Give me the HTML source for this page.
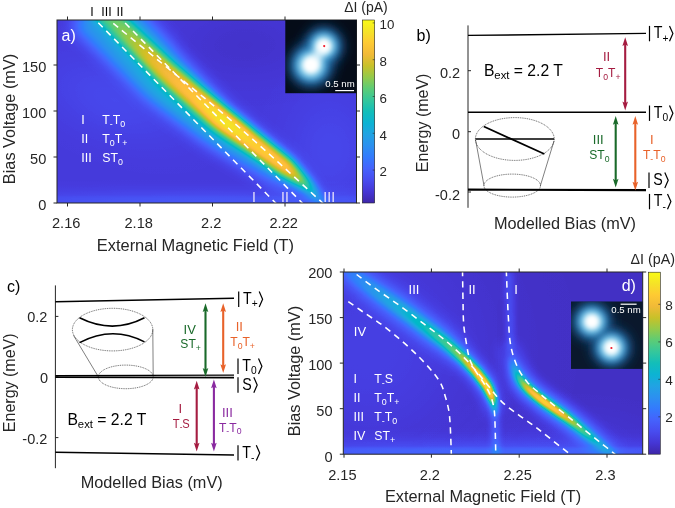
<!DOCTYPE html>
<html><head><meta charset="utf-8"><title>figure</title>
<style>html,body{margin:0;padding:0;background:#fff;overflow:hidden}svg{display:block;opacity:0.9999}text{font-family:"Liberation Sans",sans-serif}</style>
</head><body>
<svg width="675" height="508" viewBox="0 0 675 508">
<defs>
<filter id="cm" filterUnits="userSpaceOnUse" x="0" y="0" width="675" height="508" color-interpolation-filters="sRGB"><feComponentTransfer><feFuncR type="table" tableValues="0.242 0.250 0.258 0.265 0.271 0.275 0.278 0.280 0.281 0.281 0.280 0.276 0.270 0.260 0.244 0.221 0.196 0.183 0.179 0.176 0.169 0.154 0.146 0.138 0.125 0.111 0.095 0.069 0.030 0.004 0.007 0.043 0.096 0.141 0.172 0.194 0.216 0.247 0.291 0.341 0.391 0.446 0.504 0.562 0.617 0.672 0.724 0.774 0.820 0.863 0.903 0.939 0.973 0.996 0.997 0.995 0.989 0.979 0.968 0.961 0.960 0.963 0.969 0.977"/><feFuncG type="table" tableValues="0.150 0.165 0.182 0.198 0.215 0.234 0.256 0.278 0.301 0.323 0.345 0.367 0.389 0.412 0.436 0.460 0.485 0.507 0.529 0.550 0.570 0.590 0.609 0.628 0.646 0.663 0.680 0.695 0.708 0.720 0.731 0.741 0.750 0.758 0.767 0.776 0.784 0.792 0.797 0.801 0.803 0.802 0.799 0.794 0.788 0.779 0.770 0.760 0.750 0.741 0.733 0.729 0.730 0.743 0.766 0.789 0.814 0.839 0.864 0.889 0.913 0.937 0.961 0.984"/><feFuncB type="table" tableValues="0.660 0.708 0.751 0.795 0.836 0.871 0.899 0.922 0.941 0.958 0.972 0.983 0.991 0.995 0.999 0.997 0.989 0.980 0.968 0.952 0.936 0.922 0.908 0.897 0.888 0.876 0.860 0.839 0.816 0.792 0.766 0.739 0.712 0.684 0.655 0.625 0.592 0.557 0.519 0.479 0.435 0.391 0.348 0.304 0.261 0.223 0.191 0.165 0.153 0.160 0.177 0.210 0.239 0.237 0.220 0.203 0.189 0.177 0.164 0.154 0.142 0.127 0.106 0.081"/></feComponentTransfer></filter>
<filter id="b1" filterUnits="userSpaceOnUse" x="0" y="0" width="675" height="508"><feGaussianBlur stdDeviation="1"/></filter>
<filter id="b1_5" filterUnits="userSpaceOnUse" x="0" y="0" width="675" height="508"><feGaussianBlur stdDeviation="1.5"/></filter>
<filter id="b2" filterUnits="userSpaceOnUse" x="0" y="0" width="675" height="508"><feGaussianBlur stdDeviation="2"/></filter>
<filter id="b2_5" filterUnits="userSpaceOnUse" x="0" y="0" width="675" height="508"><feGaussianBlur stdDeviation="2.5"/></filter>
<filter id="b3" filterUnits="userSpaceOnUse" x="0" y="0" width="675" height="508"><feGaussianBlur stdDeviation="3"/></filter>
<filter id="b4" filterUnits="userSpaceOnUse" x="0" y="0" width="675" height="508"><feGaussianBlur stdDeviation="4"/></filter>
<filter id="b5" filterUnits="userSpaceOnUse" x="0" y="0" width="675" height="508"><feGaussianBlur stdDeviation="5"/></filter>
<filter id="b6" filterUnits="userSpaceOnUse" x="0" y="0" width="675" height="508"><feGaussianBlur stdDeviation="6"/></filter>
<filter id="b8" filterUnits="userSpaceOnUse" x="0" y="0" width="675" height="508"><feGaussianBlur stdDeviation="8"/></filter>
<filter id="b10" filterUnits="userSpaceOnUse" x="0" y="0" width="675" height="508"><feGaussianBlur stdDeviation="10"/></filter>
<filter id="b14" filterUnits="userSpaceOnUse" x="0" y="0" width="675" height="508"><feGaussianBlur stdDeviation="14"/></filter>
<filter id="b20" filterUnits="userSpaceOnUse" x="0" y="0" width="675" height="508"><feGaussianBlur stdDeviation="20"/></filter>
<radialGradient id="gs"><stop offset="0.00" stop-color="#fff" stop-opacity="1.000"/><stop offset="0.10" stop-color="#fff" stop-opacity="0.956"/><stop offset="0.20" stop-color="#fff" stop-opacity="0.835"/><stop offset="0.30" stop-color="#fff" stop-opacity="0.667"/><stop offset="0.40" stop-color="#fff" stop-opacity="0.487"/><stop offset="0.50" stop-color="#fff" stop-opacity="0.325"/><stop offset="0.60" stop-color="#fff" stop-opacity="0.198"/><stop offset="0.70" stop-color="#fff" stop-opacity="0.110"/><stop offset="0.80" stop-color="#fff" stop-opacity="0.056"/><stop offset="0.90" stop-color="#fff" stop-opacity="0.026"/><stop offset="1.00" stop-color="#fff" stop-opacity="0.000"/></radialGradient>
<radialGradient id="gsk"><stop offset="0.00" stop-color="#000" stop-opacity="1.000"/><stop offset="0.10" stop-color="#000" stop-opacity="0.956"/><stop offset="0.20" stop-color="#000" stop-opacity="0.835"/><stop offset="0.30" stop-color="#000" stop-opacity="0.667"/><stop offset="0.40" stop-color="#000" stop-opacity="0.487"/><stop offset="0.50" stop-color="#000" stop-opacity="0.325"/><stop offset="0.60" stop-color="#000" stop-opacity="0.198"/><stop offset="0.70" stop-color="#000" stop-opacity="0.110"/><stop offset="0.80" stop-color="#000" stop-opacity="0.056"/><stop offset="0.90" stop-color="#000" stop-opacity="0.026"/><stop offset="1.00" stop-color="#000" stop-opacity="0.000"/></radialGradient>
<linearGradient id="cb" x1="0" y1="1" x2="0" y2="0"><stop offset="0.000" stop-color="#3e26a8"/><stop offset="0.062" stop-color="#4536d5"/><stop offset="0.125" stop-color="#484cef"/><stop offset="0.188" stop-color="#4562fc"/><stop offset="0.250" stop-color="#347afd"/><stop offset="0.312" stop-color="#2c90f0"/><stop offset="0.375" stop-color="#21a3e3"/><stop offset="0.438" stop-color="#0cb3d3"/><stop offset="0.500" stop-color="#12beb9"/><stop offset="0.562" stop-color="#34c79c"/><stop offset="0.625" stop-color="#5ccc76"/><stop offset="0.688" stop-color="#94ca4a"/><stop offset="0.750" stop-color="#c8c129"/><stop offset="0.812" stop-color="#f1ba37"/><stop offset="0.875" stop-color="#feca33"/><stop offset="0.938" stop-color="#f5e327"/><stop offset="1.000" stop-color="#f9fb15"/></linearGradient>
<clipPath id="ca"><rect x="57" y="20" width="299.5" height="183"/></clipPath>
<clipPath id="cd"><rect x="343.3" y="272" width="299.4" height="182.2"/></clipPath>
<radialGradient id="blob"><stop offset="0" stop-color="#ffffff"/><stop offset="0.3" stop-color="#fbfdfd"/><stop offset="0.45" stop-color="#cfe9f2"/><stop offset="0.6" stop-color="#7fbfdf" stop-opacity=".95"/><stop offset="0.75" stop-color="#3f86bd" stop-opacity=".8"/><stop offset="0.9" stop-color="#1d4a7a" stop-opacity=".45"/><stop offset="1" stop-color="#0b2340" stop-opacity="0"/></radialGradient>
</defs>
<rect width="675" height="508" fill="#fff"/>
<g filter="url(#cm)"><g clip-path="url(#ca)">
<rect x="50" y="14" width="314" height="196" fill="rgb(19,19,19)"/>
<circle r="1" fill="url(#gs)" opacity="0.045" transform="translate(115.0 100.0) rotate(20.0) scale(150.0 78.0)"/>
<circle r="1" fill="url(#gs)" opacity="0.065" transform="translate(200.0 201.0) rotate(0.0) scale(480.0 24.0)"/>
<circle r="1" fill="url(#gs)" opacity="0.040" transform="translate(330.0 150.0) rotate(0.0) scale(90.0 120.0)"/>
<rect x="50" y="196" width="314" height="12" fill="#fff" opacity=".025" filter="url(#b1_5)"/>
<circle r="1" fill="url(#gsk)" opacity="0.35" transform="translate(245 45) scale(150 80)"/>
<linearGradient id="ga1" gradientUnits="userSpaceOnUse" x1="110.0" y1="15.0" x2="325.0" y2="205.0"><stop offset="0.000" stop-color="#fff" stop-opacity="0.300"/><stop offset="0.150" stop-color="#fff" stop-opacity="0.330"/><stop offset="0.350" stop-color="#fff" stop-opacity="0.380"/><stop offset="0.600" stop-color="#fff" stop-opacity="0.380"/><stop offset="0.800" stop-color="#fff" stop-opacity="0.280"/><stop offset="0.920" stop-color="#fff" stop-opacity="0.100"/><stop offset="1.000" stop-color="#fff" stop-opacity="0.020"/></linearGradient>
<linearGradient id="ga2" gradientUnits="userSpaceOnUse" x1="110.0" y1="15.0" x2="325.0" y2="205.0"><stop offset="0.000" stop-color="#fff" stop-opacity="0.413"/><stop offset="0.130" stop-color="#fff" stop-opacity="0.551"/><stop offset="0.210" stop-color="#fff" stop-opacity="0.670"/><stop offset="0.300" stop-color="#fff" stop-opacity="0.709"/><stop offset="0.400" stop-color="#fff" stop-opacity="0.756"/><stop offset="0.500" stop-color="#fff" stop-opacity="0.878"/><stop offset="0.560" stop-color="#fff" stop-opacity="0.913"/><stop offset="0.660" stop-color="#fff" stop-opacity="0.834"/><stop offset="0.820" stop-color="#fff" stop-opacity="0.813"/><stop offset="0.885" stop-color="#fff" stop-opacity="0.643"/><stop offset="0.935" stop-color="#fff" stop-opacity="0.433"/><stop offset="0.975" stop-color="#fff" stop-opacity="0.230"/><stop offset="1.000" stop-color="#fff" stop-opacity="0.095"/></linearGradient>
<polygon points="72.0,25.2 90.8,43.0 131.3,81.1 145.5,95.2 204.2,140.2 273.8,182.8 301.0,193.2 320.1,205.8 329.7,211.5 331.7,209.2 324.4,201.6 310.8,183.1 290.9,160.7 228.4,109.6 179.2,57.0 168.4,43.3 130.4,2.0 111.2,-16.1" fill="url(#ga1)" filter="url(#b8)"/>
<polygon points="86.4,10.0 105.4,27.9 145.6,66.5 159.1,79.9 214.2,127.6 280.2,174.5 304.2,189.9 320.7,205.2 329.7,211.5 332.3,208.5 325.3,200.8 311.8,182.1 291.5,159.9 228.1,110.0 172.9,64.1 160.0,51.9 120.3,12.4 101.2,-5.6" fill="url(#ga2)" filter="url(#b4)"/>
</g></g>
<g clip-path="url(#ca)" stroke="#fff" stroke-width="1.55" stroke-dasharray="6.3 5" fill="none">
<line x1="98.3" y1="22.8" x2="276.6" y2="204.0" stroke="#fff" stroke-width="1.55"/>
<path d="M113.3 23.4 C123.9 32.1 158.7 60.6 176.8 75.5 C195.0 90.4 207.2 100.1 222.2 112.8 C237.2 125.5 249.9 136.8 266.7 151.8 C283.4 166.8 313.1 194.3 322.7 203.0 C332.2 211.7 323.8 204.0 324.0 204.2"/>
<line x1="125.1" y1="23.0" x2="303.2" y2="204.0" stroke="#fff" stroke-width="1.55"/>
</g>
<rect x="57.0" y="20.0" width="299.5" height="183.0" fill="none" stroke="#262626" stroke-width="1"/>
<line x1="67.5" y1="203.0" x2="67.5" y2="206.5" stroke="#262626" stroke-width="1"/>
<line x1="67.5" y1="20.0" x2="67.5" y2="16.5" stroke="#262626" stroke-width="1"/>
<line x1="140.0" y1="203.0" x2="140.0" y2="206.5" stroke="#262626" stroke-width="1"/>
<line x1="140.0" y1="20.0" x2="140.0" y2="16.5" stroke="#262626" stroke-width="1"/>
<line x1="212.5" y1="203.0" x2="212.5" y2="206.5" stroke="#262626" stroke-width="1"/>
<line x1="212.5" y1="20.0" x2="212.5" y2="16.5" stroke="#262626" stroke-width="1"/>
<line x1="285.0" y1="203.0" x2="285.0" y2="206.5" stroke="#262626" stroke-width="1"/>
<line x1="285.0" y1="20.0" x2="285.0" y2="16.5" stroke="#262626" stroke-width="1"/>
<line x1="57.0" y1="65.0" x2="53.5" y2="65.0" stroke="#262626" stroke-width="1"/>
<line x1="356.5" y1="65.0" x2="360.0" y2="65.0" stroke="#262626" stroke-width="1"/>
<line x1="57.0" y1="111.0" x2="53.5" y2="111.0" stroke="#262626" stroke-width="1"/>
<line x1="356.5" y1="111.0" x2="360.0" y2="111.0" stroke="#262626" stroke-width="1"/>
<line x1="57.0" y1="157.0" x2="53.5" y2="157.0" stroke="#262626" stroke-width="1"/>
<line x1="356.5" y1="157.0" x2="360.0" y2="157.0" stroke="#262626" stroke-width="1"/>
<line x1="57.0" y1="203.0" x2="53.5" y2="203.0" stroke="#262626" stroke-width="1"/>
<line x1="356.5" y1="203.0" x2="360.0" y2="203.0" stroke="#262626" stroke-width="1"/>
<text x="66.2" y="228.1" font-size="14.60" text-anchor="middle" fill="#262626">2.16</text>
<text x="138.7" y="228.1" font-size="14.60" text-anchor="middle" fill="#262626">2.18</text>
<text x="211.2" y="228.1" font-size="14.60" text-anchor="middle" fill="#262626">2.2</text>
<text x="283.7" y="228.1" font-size="14.60" text-anchor="middle" fill="#262626">2.22</text>
<text x="46.3" y="72.1" font-size="14.60" text-anchor="end" fill="#262626">150</text>
<text x="46.3" y="118.1" font-size="14.60" text-anchor="end" fill="#262626">100</text>
<text x="46.3" y="164.1" font-size="14.60" text-anchor="end" fill="#262626">50</text>
<text x="46.3" y="210.1" font-size="14.60" text-anchor="end" fill="#262626">0</text>
<text x="195.4" y="250.6" font-size="16.45" text-anchor="middle" fill="#262626">External Magnetic Field (T)</text>
<text x="9.6" y="124.7" font-size="16.30" text-anchor="middle" fill="#262626" transform="rotate(-90 9.6 119.0)">Bias Voltage (mV)</text>
<text x="92.0" y="16.4" font-size="12.50" text-anchor="middle" fill="#000">I</text>
<text x="106.4" y="16.4" font-size="12.50" text-anchor="middle" fill="#000">III</text>
<text x="120.0" y="16.4" font-size="12.50" text-anchor="middle" fill="#000">II</text>
<text x="61.5" y="41.2" font-size="16.00" text-anchor="start" fill="#fff">a)</text>
<text x="0.0" y="0.0" font-size="13.20" text-anchor="start" fill="#fff" transform="translate(81.3 123.5) scale(0.950 1)">I</text>
<text x="0.0" y="0.0" font-size="13.70" text-anchor="start" fill="#fff" transform="translate(102.3 123.7) scale(0.900 1)">T<tspan dy="3.01" font-size="9.86">-</tspan><tspan dy="-3.01">T</tspan><tspan dy="3.01" font-size="9.86">0</tspan></text>
<text x="0.0" y="0.0" font-size="13.20" text-anchor="start" fill="#fff" transform="translate(81.3 142.7) scale(0.950 1)">II</text>
<text x="0.0" y="0.0" font-size="13.70" text-anchor="start" fill="#fff" transform="translate(102.3 142.9) scale(0.900 1)">T<tspan dy="3.01" font-size="9.86">0</tspan><tspan dy="-3.01">T</tspan><tspan dy="3.01" font-size="9.86">+</tspan></text>
<text x="0.0" y="0.0" font-size="13.20" text-anchor="start" fill="#fff" transform="translate(81.3 161.9) scale(0.950 1)">III</text>
<text x="0.0" y="0.0" font-size="13.70" text-anchor="start" fill="#fff" transform="translate(102.3 162.1) scale(0.900 1)">ST<tspan dy="3.01" font-size="9.86">0</tspan></text>
<text x="254.0" y="202.3" font-size="14.00" text-anchor="middle" fill="#e6dffa">I</text>
<text x="285.0" y="202.3" font-size="14.00" text-anchor="middle" fill="#e6dffa">II</text>
<text x="329.2" y="202.3" font-size="14.00" text-anchor="middle" fill="#e6dffa">III</text>
<g><rect x="285.3" y="20.0" width="71.2" height="73.2" fill="#050c18"/>
<clipPath id="cia"><rect x="285.3" y="20.0" width="71.2" height="73.2"/></clipPath><g clip-path="url(#cia)">
<circle cx="323.8" cy="46.0" r="20.2" fill="#15477a" filter="url(#b6)"/>
<circle cx="311.0" cy="65.2" r="23.4" fill="#15477a" filter="url(#b6)"/>
<circle cx="323.8" cy="46.0" r="15.1" fill="#3a9ad2" filter="url(#b4)"/>
<circle cx="311.0" cy="65.2" r="17.5" fill="#3a9ad2" filter="url(#b4)"/>
<circle cx="323.8" cy="46.0" r="10.7" fill="#a9def2" filter="url(#b3)"/>
<circle cx="311.0" cy="65.2" r="12.4" fill="#a9def2" filter="url(#b3)"/>
<line x1="323.8" y1="46.0" x2="311.0" y2="65.2" stroke="#d8f0fa" stroke-width="9.4" filter="url(#b3)"/>
<circle cx="323.8" cy="46.0" r="6.8" fill="#ffffff" filter="url(#b2)"/>
<circle cx="311.0" cy="65.2" r="7.9" fill="#ffffff" filter="url(#b2)"/>
</g><circle cx="324.2" cy="46.1" r="1.1" fill="#f01828"/></g>
<text x="340.0" y="87.4" font-size="9.60" text-anchor="middle" fill="#fff">0.5 nm</text>
<line x1="335.2" y1="90.6" x2="354.0" y2="90.6" stroke="#fff" stroke-width="1.2"/>
<rect x="362.3" y="20" width="12.4" height="183" fill="url(#cb)" stroke="#262626" stroke-width="0.6"/>
<text x="379.6" y="29.2" font-size="13.30" text-anchor="start" fill="#262626">10</text>
<line x1="372.7" y1="22.9" x2="374.7" y2="22.9" stroke="#262626" stroke-width="0.6"/>
<text x="379.6" y="66.0" font-size="13.30" text-anchor="start" fill="#262626">8</text>
<line x1="372.7" y1="59.7" x2="374.7" y2="59.7" stroke="#262626" stroke-width="0.6"/>
<text x="379.6" y="102.8" font-size="13.30" text-anchor="start" fill="#262626">6</text>
<line x1="372.7" y1="96.5" x2="374.7" y2="96.5" stroke="#262626" stroke-width="0.6"/>
<text x="379.6" y="139.6" font-size="13.30" text-anchor="start" fill="#262626">4</text>
<line x1="372.7" y1="133.3" x2="374.7" y2="133.3" stroke="#262626" stroke-width="0.6"/>
<text x="379.6" y="176.4" font-size="13.30" text-anchor="start" fill="#262626">2</text>
<line x1="372.7" y1="170.1" x2="374.7" y2="170.1" stroke="#262626" stroke-width="0.6"/>
<text x="366.0" y="12.2" font-size="14.00" text-anchor="middle" fill="#262626">ΔI (pA)</text>
<g filter="url(#cm)"><g clip-path="url(#cd)">
<rect x="336" y="265" width="316" height="196" fill="rgb(10,10,10)"/>
<circle r="1" fill="url(#gs)" opacity="0.100" transform="translate(490.0 453.0) rotate(0.0) scale(510.0 27.0)"/>
<circle r="1" fill="url(#gs)" opacity="0.055" transform="translate(370.0 350.0) rotate(0.0) scale(240.0 240.0)"/>
<circle r="1" fill="url(#gs)" opacity="0.030" transform="translate(560.0 440.0) rotate(0.0) scale(180.0 60.0)"/>
<linearGradient id="gd1h" gradientUnits="userSpaceOnUse" x1="350.0" y1="268.0" x2="495.0" y2="408.0"><stop offset="0.000" stop-color="#fff" stop-opacity="0.100"/><stop offset="0.300" stop-color="#fff" stop-opacity="0.180"/><stop offset="0.500" stop-color="#fff" stop-opacity="0.250"/><stop offset="0.700" stop-color="#fff" stop-opacity="0.300"/><stop offset="0.900" stop-color="#fff" stop-opacity="0.300"/><stop offset="1.000" stop-color="#fff" stop-opacity="0.120"/></linearGradient>
<linearGradient id="gd1" gradientUnits="userSpaceOnUse" x1="350.0" y1="268.0" x2="495.0" y2="408.0"><stop offset="0.000" stop-color="#fff" stop-opacity="0.029"/><stop offset="0.320" stop-color="#fff" stop-opacity="0.138"/><stop offset="0.470" stop-color="#fff" stop-opacity="0.227"/><stop offset="0.600" stop-color="#fff" stop-opacity="0.371"/><stop offset="0.680" stop-color="#fff" stop-opacity="0.523"/><stop offset="0.750" stop-color="#fff" stop-opacity="0.749"/><stop offset="0.830" stop-color="#fff" stop-opacity="0.967"/><stop offset="0.900" stop-color="#fff" stop-opacity="1.000"/><stop offset="0.945" stop-color="#fff" stop-opacity="1.000"/><stop offset="0.975" stop-color="#fff" stop-opacity="0.667"/><stop offset="1.000" stop-color="#fff" stop-opacity="0.278"/></linearGradient>
<path d="M343.0 266.0 C345.5 268.0 352.3 273.7 358.0 278.0 C363.7 282.3 369.8 286.8 377.0 292.0 C384.2 297.2 393.1 303.2 401.0 309.0 C408.9 314.8 417.0 320.8 424.5 326.5 C432.0 332.2 439.4 337.6 446.0 343.0 C452.6 348.4 458.9 354.2 464.0 359.0 C469.1 363.8 472.7 367.5 476.5 372.0 C480.3 376.5 484.3 381.7 487.0 386.0 C489.7 390.3 491.2 394.7 492.5 398.0 C493.8 401.3 494.1 403.3 494.5 406.0 C494.9 408.7 495.1 412.7 495.2 414.0" fill="none" stroke="url(#gd1h)" stroke-width="15" filter="url(#b6)"/>
<linearGradient id="gd1w" gradientUnits="userSpaceOnUse" x1="350.0" y1="268.0" x2="495.0" y2="408.0"><stop offset="0.000" stop-color="#fff" stop-opacity="0.100"/><stop offset="0.300" stop-color="#fff" stop-opacity="0.150"/><stop offset="0.550" stop-color="#fff" stop-opacity="0.130"/><stop offset="0.750" stop-color="#fff" stop-opacity="0.000"/><stop offset="1.000" stop-color="#fff" stop-opacity="0.000"/></linearGradient>
<path d="M343.0 266.0 C345.5 268.0 352.3 273.7 358.0 278.0 C363.7 282.3 369.8 286.8 377.0 292.0 C384.2 297.2 393.1 303.2 401.0 309.0 C408.9 314.8 417.0 320.8 424.5 326.5 C432.0 332.2 439.4 337.6 446.0 343.0 C452.6 348.4 458.9 354.2 464.0 359.0 C469.1 363.8 472.7 367.5 476.5 372.0 C480.3 376.5 484.3 381.7 487.0 386.0 C489.7 390.3 491.2 394.7 492.5 398.0 C493.8 401.3 494.1 403.3 494.5 406.0 C494.9 408.7 495.1 412.7 495.2 414.0" fill="none" stroke="url(#gd1w)" stroke-width="26" filter="url(#b8)"/>
<polygon points="338.9,271.1 354.1,283.2 373.2,297.3 397.5,313.9 421.2,330.9 442.8,346.9 460.8,362.3 473.2,374.9 483.3,388.3 488.9,399.3 491.7,406.5 493.7,414.1 496.7,413.9 497.3,405.5 496.1,396.7 490.7,383.7 479.8,369.1 467.2,355.7 449.2,339.1 427.8,322.1 404.5,304.1 380.8,286.7 361.9,272.8 347.1,260.9" fill="url(#gd1)" filter="url(#b2_5)"/>
<linearGradient id="gd2h" gradientUnits="userSpaceOnUse" x1="509.0" y1="355.0" x2="610.0" y2="455.0"><stop offset="0.000" stop-color="#fff" stop-opacity="0.080"/><stop offset="0.200" stop-color="#fff" stop-opacity="0.280"/><stop offset="0.500" stop-color="#fff" stop-opacity="0.320"/><stop offset="0.800" stop-color="#fff" stop-opacity="0.240"/><stop offset="1.000" stop-color="#fff" stop-opacity="0.080"/></linearGradient>
<linearGradient id="gd2" gradientUnits="userSpaceOnUse" x1="509.0" y1="355.0" x2="610.0" y2="455.0"><stop offset="0.000" stop-color="#fff" stop-opacity="0.003"/><stop offset="0.030" stop-color="#fff" stop-opacity="0.075"/><stop offset="0.110" stop-color="#fff" stop-opacity="0.270"/><stop offset="0.180" stop-color="#fff" stop-opacity="0.509"/><stop offset="0.270" stop-color="#fff" stop-opacity="0.837"/><stop offset="0.400" stop-color="#fff" stop-opacity="0.961"/><stop offset="0.550" stop-color="#fff" stop-opacity="0.864"/><stop offset="0.700" stop-color="#fff" stop-opacity="0.566"/><stop offset="0.830" stop-color="#fff" stop-opacity="0.334"/><stop offset="0.950" stop-color="#fff" stop-opacity="0.197"/><stop offset="1.000" stop-color="#fff" stop-opacity="0.105"/></linearGradient>
<path d="M508.8 345.0 C509.0 346.7 509.3 351.6 510.0 355.0 C510.7 358.4 511.8 362.1 513.1 365.5 C514.4 368.9 515.8 372.1 517.7 375.4 C519.6 378.7 521.7 382.0 524.7 385.3 C527.7 388.6 531.5 391.9 535.7 395.3 C539.9 398.7 544.5 402.1 549.7 405.8 C554.9 409.6 561.5 414.0 566.7 417.8 C571.9 421.6 576.2 425.2 580.7 428.8 C585.2 432.4 589.2 435.7 593.7 439.3 C598.2 442.9 604.2 447.5 607.7 450.3 C611.2 453.1 613.5 455.3 614.7 456.3" fill="none" stroke="url(#gd2h)" stroke-width="19" filter="url(#b6)"/>
<path d="M508.8 345.0 C509.0 346.7 509.3 351.6 510.0 355.0 C510.7 358.4 511.8 362.1 513.1 365.5 C514.4 368.9 515.8 372.1 517.7 375.4 C519.6 378.7 521.7 382.0 524.7 385.3 C527.7 388.6 531.5 391.9 535.7 395.3 C539.9 398.7 544.5 402.1 549.7 405.8 C554.9 409.6 561.5 414.0 566.7 417.8 C571.9 421.6 576.2 425.2 580.7 428.8 C585.2 432.4 589.2 435.7 593.7 439.3 C598.2 442.9 604.2 447.5 607.7 450.3 C611.2 453.1 613.5 455.3 614.7 456.3" fill="none" stroke="url(#gd2)" stroke-width="8" stroke-linecap="round" filter="url(#b2_5)"/>
<path d="M509 271 L510.5 350" stroke="#fff" stroke-opacity=".12" stroke-width="6" filter="url(#b3)"/>
<path d="M495 406 L496 456" stroke="#fff" stroke-opacity=".2" stroke-width="5" filter="url(#b3)"/>
<rect x="336" y="447.5" width="316" height="12" fill="#fff" opacity=".055" filter="url(#b1_5)"/>
<path d="M503 300 L503 420" stroke="#000" stroke-opacity=".25" stroke-width="5" filter="url(#b3)"/>
</g></g>
<g clip-path="url(#cd)" stroke="#fff" stroke-width="1.55" stroke-dasharray="6.3 5" fill="none">
<path d="M356.6 274.5 C359.8 276.9 368.4 283.6 375.5 288.7 C382.6 293.8 391.3 299.6 399.2 305.3 C407.1 311.0 415.4 317.4 422.9 323.1 C430.4 328.8 437.5 334.0 444.3 339.6 C451.1 345.2 458.1 351.7 463.5 357.0 C468.9 362.3 472.4 366.8 476.5 371.5 C480.6 376.2 483.8 380.5 488.0 385.5 C492.2 390.5 496.6 396.8 501.6 401.6 C506.6 406.5 512.7 410.5 518.2 414.6 C523.7 418.8 529.3 422.4 534.8 426.5 C540.3 430.6 545.4 434.8 551.4 439.5 C557.4 444.2 567.4 452.2 571.0 455.0 C574.6 457.8 572.7 456.2 573.0 456.5"/>
<path d="M462.5 270.0 C462.6 275.1 462.8 291.5 463.0 300.5 C463.2 309.5 463.1 316.7 463.7 324.2 C464.3 331.7 465.8 339.7 466.8 345.6 C467.8 351.5 468.4 355.6 469.9 359.8 C471.3 364.0 473.0 366.6 475.5 370.8 C478.0 375.0 482.4 380.6 485.0 385.0 C487.6 389.4 489.5 392.9 491.0 396.9 C492.5 400.8 493.3 404.3 494.0 408.7 C494.7 413.1 494.7 415.1 495.0 423.0 C495.3 430.9 495.7 450.5 495.8 456.0"/>
<path d="M506.3 270.0 C506.5 275.0 507.1 291.7 507.5 300.0 C507.9 308.3 508.1 313.3 508.5 320.0 C508.9 326.7 509.1 333.9 509.9 340.0 C510.7 346.1 511.9 351.5 513.5 356.6 C515.1 361.7 517.0 366.5 519.4 370.8 C521.8 375.1 524.4 378.9 527.7 382.7 C531.1 386.4 535.2 389.6 539.5 393.3 C543.8 397.1 548.2 400.7 553.7 405.2 C559.2 409.7 567.2 416.0 572.7 420.4 C578.2 424.8 582.4 428.2 586.9 431.8 C591.4 435.4 595.1 438.3 600.0 442.2 C604.9 446.1 613.0 452.6 616.0 455.0 C619.0 457.4 617.7 456.3 618.0 456.6"/>
<path d="M348.3 301.7 C350.9 303.5 358.0 308.4 363.7 312.4 C369.4 316.3 376.4 320.7 382.7 325.4 C389.0 330.1 395.7 335.7 401.6 340.8 C407.5 345.9 413.1 351.1 418.2 356.2 C423.3 361.3 428.7 367.1 432.4 371.6 C436.1 376.1 438.4 379.2 440.5 383.0 C442.6 386.8 443.2 389.0 444.7 394.5 C446.2 400.0 448.4 405.6 449.5 415.8 C450.6 426.1 451.1 449.3 451.4 456.0"/>
</g>
<rect x="343.3" y="272.0" width="299.4" height="182.2" fill="none" stroke="#262626" stroke-width="1"/>
<line x1="344.0" y1="454.2" x2="344.0" y2="457.7" stroke="#262626" stroke-width="1"/>
<line x1="344.0" y1="272.0" x2="344.0" y2="268.5" stroke="#262626" stroke-width="1"/>
<line x1="431.4" y1="454.2" x2="431.4" y2="457.7" stroke="#262626" stroke-width="1"/>
<line x1="431.4" y1="272.0" x2="431.4" y2="268.5" stroke="#262626" stroke-width="1"/>
<line x1="519.2" y1="454.2" x2="519.2" y2="457.7" stroke="#262626" stroke-width="1"/>
<line x1="519.2" y1="272.0" x2="519.2" y2="268.5" stroke="#262626" stroke-width="1"/>
<line x1="607.0" y1="454.2" x2="607.0" y2="457.7" stroke="#262626" stroke-width="1"/>
<line x1="607.0" y1="272.0" x2="607.0" y2="268.5" stroke="#262626" stroke-width="1"/>
<line x1="343.3" y1="272.0" x2="339.8" y2="272.0" stroke="#262626" stroke-width="1"/>
<line x1="642.7" y1="272.0" x2="646.2" y2="272.0" stroke="#262626" stroke-width="1"/>
<line x1="343.3" y1="317.6" x2="339.8" y2="317.6" stroke="#262626" stroke-width="1"/>
<line x1="642.7" y1="317.6" x2="646.2" y2="317.6" stroke="#262626" stroke-width="1"/>
<line x1="343.3" y1="363.1" x2="339.8" y2="363.1" stroke="#262626" stroke-width="1"/>
<line x1="642.7" y1="363.1" x2="646.2" y2="363.1" stroke="#262626" stroke-width="1"/>
<line x1="343.3" y1="408.7" x2="339.8" y2="408.7" stroke="#262626" stroke-width="1"/>
<line x1="642.7" y1="408.7" x2="646.2" y2="408.7" stroke="#262626" stroke-width="1"/>
<line x1="343.3" y1="454.2" x2="339.8" y2="454.2" stroke="#262626" stroke-width="1"/>
<line x1="642.7" y1="454.2" x2="646.2" y2="454.2" stroke="#262626" stroke-width="1"/>
<text x="342.4" y="480.0" font-size="14.60" text-anchor="middle" fill="#262626">2.15</text>
<text x="429.8" y="480.0" font-size="14.60" text-anchor="middle" fill="#262626">2.2</text>
<text x="517.6" y="480.0" font-size="14.60" text-anchor="middle" fill="#262626">2.25</text>
<text x="605.4" y="480.0" font-size="14.60" text-anchor="middle" fill="#262626">2.3</text>
<text x="332.5" y="278.4" font-size="14.60" text-anchor="end" fill="#262626">200</text>
<text x="332.5" y="324.1" font-size="14.60" text-anchor="end" fill="#262626">150</text>
<text x="332.5" y="370.1" font-size="14.60" text-anchor="end" fill="#262626">100</text>
<text x="332.5" y="415.8" font-size="14.60" text-anchor="end" fill="#262626">50</text>
<text x="332.5" y="461.8" font-size="14.60" text-anchor="end" fill="#262626">0</text>
<text x="483.0" y="501.7" font-size="16.35" text-anchor="middle" fill="#262626">External Magnetic Field (T)</text>
<text x="294.7" y="376.7" font-size="16.30" text-anchor="middle" fill="#262626" transform="rotate(-90 294.7 371.0)">Bias Voltage (mV)</text>
<text x="621.7" y="291.1" font-size="16.00" text-anchor="start" fill="#fff">d)</text>
<text x="414.0" y="294.1" font-size="13.00" text-anchor="middle" fill="#fff">III</text>
<text x="472.1" y="294.1" font-size="13.00" text-anchor="middle" fill="#fff">II</text>
<text x="516.0" y="294.1" font-size="13.00" text-anchor="middle" fill="#fff">I</text>
<text x="360.0" y="336.2" font-size="13.00" text-anchor="middle" fill="#fff">IV</text>
<text x="0.0" y="0.0" font-size="13.20" text-anchor="start" fill="#fff" transform="translate(353.5 382.6) scale(0.950 1)">I</text>
<text x="0.0" y="0.0" font-size="13.70" text-anchor="start" fill="#fff" transform="translate(374.2 382.8) scale(0.900 1)">T<tspan dy="3.01" font-size="9.86">-</tspan><tspan dy="-3.01">S</tspan></text>
<text x="0.0" y="0.0" font-size="13.20" text-anchor="start" fill="#fff" transform="translate(353.5 401.7) scale(0.950 1)">II</text>
<text x="0.0" y="0.0" font-size="13.70" text-anchor="start" fill="#fff" transform="translate(374.2 401.9) scale(0.900 1)">T<tspan dy="3.01" font-size="9.86">0</tspan><tspan dy="-3.01">T</tspan><tspan dy="3.01" font-size="9.86">+</tspan></text>
<text x="0.0" y="0.0" font-size="13.20" text-anchor="start" fill="#fff" transform="translate(353.5 420.8) scale(0.950 1)">III</text>
<text x="0.0" y="0.0" font-size="13.70" text-anchor="start" fill="#fff" transform="translate(374.2 421.0) scale(0.900 1)">T<tspan dy="3.01" font-size="9.86">-</tspan><tspan dy="-3.01">T</tspan><tspan dy="3.01" font-size="9.86">0</tspan></text>
<text x="0.0" y="0.0" font-size="13.20" text-anchor="start" fill="#fff" transform="translate(353.5 439.9) scale(0.950 1)">IV</text>
<text x="0.0" y="0.0" font-size="13.70" text-anchor="start" fill="#fff" transform="translate(374.2 440.1) scale(0.900 1)">ST<tspan dy="3.01" font-size="9.86">+</tspan></text>
<g><rect x="571.0" y="301.5" width="71.7" height="67.4" fill="#0a182c"/>
<clipPath id="cid"><rect x="571.0" y="301.5" width="71.7" height="67.4"/></clipPath><g clip-path="url(#cid)">
<circle cx="591.9" cy="321.6" r="20.5" fill="#15477a" filter="url(#b6)"/>
<circle cx="611.4" cy="347.6" r="20.5" fill="#15477a" filter="url(#b6)"/>
<circle cx="591.9" cy="321.6" r="15.4" fill="#3a9ad2" filter="url(#b4)"/>
<circle cx="611.4" cy="347.6" r="15.4" fill="#3a9ad2" filter="url(#b4)"/>
<circle cx="591.9" cy="321.6" r="10.9" fill="#a9def2" filter="url(#b3)"/>
<circle cx="611.4" cy="347.6" r="10.9" fill="#a9def2" filter="url(#b3)"/>
<circle cx="591.9" cy="321.6" r="6.9" fill="#ffffff" filter="url(#b2)"/>
<circle cx="611.4" cy="347.6" r="6.9" fill="#ffffff" filter="url(#b2)"/>
</g><circle cx="611.4" cy="348.0" r="1.1" fill="#f01828"/></g>
<text x="626.0" y="313.2" font-size="9.60" text-anchor="middle" fill="#fff">0.5 nm</text>
<line x1="620.6" y1="304.2" x2="636.6" y2="304.2" stroke="#fff" stroke-width="1.2"/>
<rect x="648.4" y="272.2" width="11.9" height="182" fill="url(#cb)" stroke="#262626" stroke-width="0.6"/>
<text x="665.2" y="309.6" font-size="13.60" text-anchor="start" fill="#262626">8</text>
<line x1="658.3" y1="304.3" x2="660.3" y2="304.3" stroke="#262626" stroke-width="0.6"/>
<text x="665.2" y="347.2" font-size="13.60" text-anchor="start" fill="#262626">6</text>
<line x1="658.3" y1="341.9" x2="660.3" y2="341.9" stroke="#262626" stroke-width="0.6"/>
<text x="665.2" y="384.6" font-size="13.60" text-anchor="start" fill="#262626">4</text>
<line x1="658.3" y1="379.3" x2="660.3" y2="379.3" stroke="#262626" stroke-width="0.6"/>
<text x="665.2" y="422.1" font-size="13.60" text-anchor="start" fill="#262626">2</text>
<line x1="658.3" y1="416.8" x2="660.3" y2="416.8" stroke="#262626" stroke-width="0.6"/>
<text x="630.5" y="263.8" font-size="14.30" text-anchor="start" fill="#262626">ΔI (pA)</text>
<line x1="468.0" y1="25.4" x2="468.0" y2="207.8" stroke="#262626" stroke-width="1"/>
<line x1="468.0" y1="70.7" x2="471.0" y2="70.7" stroke="#262626" stroke-width="1"/>
<line x1="468.0" y1="131.7" x2="471.0" y2="131.7" stroke="#262626" stroke-width="1"/>
<line x1="468.0" y1="192.0" x2="471.0" y2="192.0" stroke="#262626" stroke-width="1"/>
<line x1="468.0" y1="35.4" x2="646.0" y2="33.4" stroke="#000" stroke-width="1.4"/>
<line x1="468.0" y1="112.3" x2="646.0" y2="112.3" stroke="#000" stroke-width="1.4"/>
<line x1="468.0" y1="189.6" x2="646.0" y2="190.2" stroke="#000" stroke-width="2.2"/>
<text x="416.5" y="40.8" font-size="16.00" text-anchor="start" fill="#000">b)</text>
<text x="460.2" y="77.7" font-size="14.50" text-anchor="end" fill="#262626">0.2</text>
<text x="460.0" y="138.6" font-size="14.50" text-anchor="end" fill="#262626">0</text>
<text x="460.0" y="199.6" font-size="14.50" text-anchor="end" fill="#262626">-0.2</text>
<text x="422.5" y="128.5" font-size="16.00" text-anchor="middle" fill="#262626" transform="rotate(-90 422.5 122.9)">Energy (meV)</text>
<text x="565.0" y="229.2" font-size="16.30" text-anchor="middle" fill="#262626">Modelled Bias (mV)</text>
<text x="483.9" y="76.0" font-size="15.70" text-anchor="start" fill="#000">B<tspan dy="3.45" font-size="11.30">ext</tspan><tspan dy="-3.45"> = 2.2 T</tspan></text>
<g fill="none" stroke="#000" stroke-width="0.6" stroke-dasharray="1 0.8">
<ellipse cx="514.8" cy="139" rx="39.4" ry="21.4"/><ellipse cx="512.2" cy="185.6" rx="28.3" ry="11.5"/></g>
<line x1="475.6" y1="140.0" x2="484.0" y2="185.6" stroke="#000" stroke-width="0.5"/>
<line x1="554.0" y1="141.0" x2="540.4" y2="185.6" stroke="#000" stroke-width="0.5"/>
<line x1="475.4" y1="139.0" x2="554.2" y2="139.0" stroke="#000" stroke-width="1.5"/>
<line x1="483.8" y1="126.6" x2="544.4" y2="154.0" stroke="#000" stroke-width="1.7"/>
<line x1="625.2" y1="42.2" x2="625.2" y2="105.4" stroke="#a51c41" stroke-width="2.1"/>
<path d="M625.2 37.2 l-2.8 8.8 l2.8 -1.6 l2.8 1.6 z" fill="#a51c41"/>
<path d="M625.2 110.4 l-2.8 -8.8 l2.8 1.6 l2.8 -1.6 z" fill="#a51c41"/>
<line x1="615.7" y1="121.0" x2="615.7" y2="182.6" stroke="#1a6a2a" stroke-width="2.1"/>
<path d="M615.7 116.0 l-2.8 8.8 l2.8 -1.6 l2.8 1.6 z" fill="#1a6a2a"/>
<path d="M615.7 187.6 l-2.8 -8.8 l2.8 1.6 l2.8 -1.6 z" fill="#1a6a2a"/>
<line x1="635.3" y1="121.0" x2="635.3" y2="185.5" stroke="#e8622a" stroke-width="2.1"/>
<path d="M635.3 116.0 l-2.8 8.8 l2.8 -1.6 l2.8 1.6 z" fill="#e8622a"/>
<path d="M635.3 190.5 l-2.8 -8.8 l2.8 1.6 l2.8 -1.6 z" fill="#e8622a"/>
<text x="606.5" y="61.3" font-size="13.00" text-anchor="middle" fill="#a51c41">II</text>
<text x="0.0" y="0.0" font-size="13.00" text-anchor="middle" fill="#a51c41" transform="translate(608.2 77.1) scale(0.930 1)">T<tspan dy="2.86" font-size="9.36">0</tspan><tspan dy="-2.86">T</tspan><tspan dy="2.86" font-size="9.36">+</tspan></text>
<text x="598.2" y="144.1" font-size="13.00" text-anchor="middle" fill="#1a6a2a">III</text>
<text x="0.0" y="0.0" font-size="13.00" text-anchor="middle" fill="#1a6a2a" transform="translate(599.4 159.4) scale(0.930 1)">ST<tspan dy="2.86" font-size="9.36">0</tspan></text>
<text x="651.9" y="144.1" font-size="13.00" text-anchor="middle" fill="#e8622a">I</text>
<text x="0.0" y="0.0" font-size="13.00" text-anchor="middle" fill="#e8622a" transform="translate(654.2 159.4) scale(0.930 1)">T<tspan dy="2.86" font-size="9.36">-</tspan><tspan dy="-2.86">T</tspan><tspan dy="2.86" font-size="9.36">0</tspan></text>
<line x1="649.5" y1="25.9" x2="649.5" y2="41.3" stroke="#000" stroke-width="1.2"/>
<text x="0.0" y="0.0" font-size="15.80" text-anchor="start" fill="#000" transform="translate(653.8 38.2) scale(0.900 1)">T<tspan dy="3.48" font-size="11.38">+</tspan></text>
<polyline points="669.5,25.9 672.9,33.6 669.5,41.3" fill="none" stroke="#000" stroke-width="1.2"/>
<line x1="649.5" y1="105.5" x2="649.5" y2="120.9" stroke="#000" stroke-width="1.2"/>
<text x="0.0" y="0.0" font-size="15.80" text-anchor="start" fill="#000" transform="translate(653.8 117.8) scale(0.900 1)">T<tspan dy="3.48" font-size="11.38">0</tspan></text>
<polyline points="669.5,105.5 672.9,113.2 669.5,120.9" fill="none" stroke="#000" stroke-width="1.2"/>
<line x1="649.0" y1="172.6" x2="649.0" y2="188.0" stroke="#000" stroke-width="1.2"/>
<text x="0.0" y="0.0" font-size="15.80" text-anchor="start" fill="#000" transform="translate(653.3 184.9) scale(0.900 1)">S</text>
<polyline points="664.8,172.6 668.2,180.3 664.8,188.0" fill="none" stroke="#000" stroke-width="1.2"/>
<line x1="649.5" y1="193.9" x2="649.5" y2="209.3" stroke="#000" stroke-width="1.2"/>
<text x="0.0" y="0.0" font-size="15.80" text-anchor="start" fill="#000" transform="translate(653.8 206.2) scale(0.900 1)">T<tspan dy="3.48" font-size="11.38">-</tspan></text>
<polyline points="667.5,193.9 670.9,201.6 667.5,209.3" fill="none" stroke="#000" stroke-width="1.2"/>
<line x1="55.4" y1="285.4" x2="55.4" y2="468.2" stroke="#262626" stroke-width="1"/>
<line x1="55.4" y1="316.4" x2="58.4" y2="316.4" stroke="#262626" stroke-width="1"/>
<line x1="55.4" y1="376.9" x2="58.4" y2="376.9" stroke="#262626" stroke-width="1"/>
<line x1="55.4" y1="437.6" x2="58.4" y2="437.6" stroke="#262626" stroke-width="1"/>
<line x1="55.4" y1="301.8" x2="234.0" y2="298.3" stroke="#000" stroke-width="1.4"/>
<line x1="55.4" y1="375.6" x2="234.0" y2="375.2" stroke="#000" stroke-width="1.2"/>
<line x1="55.4" y1="377.2" x2="234.0" y2="377.6" stroke="#000" stroke-width="1.8"/>
<line x1="55.4" y1="452.2" x2="234.0" y2="455.0" stroke="#000" stroke-width="1.4"/>
<text x="7.0" y="291.6" font-size="16.00" text-anchor="start" fill="#000">c)</text>
<text x="47.3" y="321.9" font-size="14.50" text-anchor="end" fill="#262626">0.2</text>
<text x="48.0" y="383.4" font-size="14.50" text-anchor="end" fill="#262626">0</text>
<text x="47.3" y="444.0" font-size="14.50" text-anchor="end" fill="#262626">-0.2</text>
<text x="9.6" y="388.4" font-size="16.00" text-anchor="middle" fill="#262626" transform="rotate(-90 9.6 382.8)">Energy (meV)</text>
<text x="151.7" y="488.4" font-size="16.30" text-anchor="middle" fill="#262626">Modelled Bias (mV)</text>
<text x="67.4" y="424.8" font-size="15.70" text-anchor="start" fill="#000">B<tspan dy="3.45" font-size="11.30">ext</tspan><tspan dy="-3.45"> = 2.2 T</tspan></text>
<g fill="none" stroke="#000" stroke-width="0.6" stroke-dasharray="1 0.8">
<ellipse cx="112.6" cy="329.6" rx="40.2" ry="21.3"/><ellipse cx="125.8" cy="376.9" rx="27.4" ry="11.8"/></g>
<line x1="73.6" y1="335.5" x2="98.4" y2="376.9" stroke="#000" stroke-width="0.5"/>
<line x1="152.8" y1="329.6" x2="153.2" y2="376.5" stroke="#000" stroke-width="0.5"/>
<path d="M79.5 317.8 Q112.6 334.4 144.5 317.8" fill="none" stroke="#000" stroke-width="1.6"/>
<path d="M79.5 342.6 Q112.6 325.2 144.5 341.9" fill="none" stroke="#000" stroke-width="1.6"/>
<line x1="205.5" y1="308.2" x2="205.5" y2="371.9" stroke="#1a6a2a" stroke-width="2.1"/>
<path d="M205.5 303.2 l-2.8 8.8 l2.8 -1.6 l2.8 1.6 z" fill="#1a6a2a"/>
<path d="M205.5 376.9 l-2.8 -8.8 l2.8 1.6 l2.8 -1.6 z" fill="#1a6a2a"/>
<line x1="223.2" y1="308.2" x2="223.2" y2="368.0" stroke="#e8622a" stroke-width="2.1"/>
<path d="M223.2 303.2 l-2.8 8.8 l2.8 -1.6 l2.8 1.6 z" fill="#e8622a"/>
<path d="M223.2 373.0 l-2.8 -8.8 l2.8 1.6 l2.8 -1.6 z" fill="#e8622a"/>
<line x1="196.7" y1="385.8" x2="196.7" y2="446.5" stroke="#a51c41" stroke-width="2.1"/>
<path d="M196.7 380.8 l-2.8 8.8 l2.8 -1.6 l2.8 1.6 z" fill="#a51c41"/>
<path d="M196.7 451.5 l-2.8 -8.8 l2.8 1.6 l2.8 -1.6 z" fill="#a51c41"/>
<line x1="213.9" y1="384.5" x2="213.9" y2="446.5" stroke="#8a2aa0" stroke-width="2.1"/>
<path d="M213.9 379.5 l-2.8 8.8 l2.8 -1.6 l2.8 1.6 z" fill="#8a2aa0"/>
<path d="M213.9 451.5 l-2.8 -8.8 l2.8 1.6 l2.8 -1.6 z" fill="#8a2aa0"/>
<text x="189.7" y="334.2" font-size="13.00" text-anchor="middle" fill="#1a6a2a">IV</text>
<text x="0.0" y="0.0" font-size="13.00" text-anchor="middle" fill="#1a6a2a" transform="translate(190.6 348.4) scale(0.930 1)">ST<tspan dy="2.86" font-size="9.36">+</tspan></text>
<text x="239.3" y="331.1" font-size="13.00" text-anchor="middle" fill="#e8622a">II</text>
<text x="0.0" y="0.0" font-size="13.00" text-anchor="middle" fill="#e8622a" transform="translate(242.6 346.4) scale(0.930 1)">T<tspan dy="2.86" font-size="9.36">0</tspan><tspan dy="-2.86">T</tspan><tspan dy="2.86" font-size="9.36">+</tspan></text>
<text x="180.4" y="412.6" font-size="13.00" text-anchor="middle" fill="#a51c41">I</text>
<text x="0.0" y="0.0" font-size="13.00" text-anchor="middle" fill="#a51c41" transform="translate(181.3 427.6) scale(0.860 1)">T<tspan dy="2.86" font-size="9.36">-</tspan><tspan dy="-2.86">S</tspan></text>
<text x="227.4" y="416.7" font-size="13.00" text-anchor="middle" fill="#8a2aa0">III</text>
<text x="0.0" y="0.0" font-size="13.00" text-anchor="middle" fill="#8a2aa0" transform="translate(230.2 431.6) scale(0.930 1)">T<tspan dy="2.86" font-size="9.36">-</tspan><tspan dy="-2.86">T</tspan><tspan dy="2.86" font-size="9.36">0</tspan></text>
<line x1="238.7" y1="291.5" x2="238.7" y2="306.9" stroke="#000" stroke-width="1.2"/>
<text x="0.0" y="0.0" font-size="15.80" text-anchor="start" fill="#000" transform="translate(243.0 303.8) scale(0.900 1)">T<tspan dy="3.48" font-size="11.38">+</tspan></text>
<polyline points="259.2,291.5 262.6,299.2 259.2,306.9" fill="none" stroke="#000" stroke-width="1.2"/>
<line x1="238.0" y1="358.5" x2="238.0" y2="373.9" stroke="#000" stroke-width="1.2"/>
<text x="0.0" y="0.0" font-size="15.80" text-anchor="start" fill="#000" transform="translate(242.3 370.8) scale(0.900 1)">T<tspan dy="3.48" font-size="11.38">0</tspan></text>
<polyline points="258.5,358.5 261.9,366.2 258.5,373.9" fill="none" stroke="#000" stroke-width="1.2"/>
<line x1="238.0" y1="377.3" x2="238.0" y2="392.7" stroke="#000" stroke-width="1.2"/>
<text x="0.0" y="0.0" font-size="15.80" text-anchor="start" fill="#000" transform="translate(242.3 389.6) scale(0.900 1)">S</text>
<polyline points="253.8,377.3 257.2,385.0 253.8,392.7" fill="none" stroke="#000" stroke-width="1.2"/>
<line x1="238.0" y1="445.2" x2="238.0" y2="460.6" stroke="#000" stroke-width="1.2"/>
<text x="0.0" y="0.0" font-size="15.80" text-anchor="start" fill="#000" transform="translate(242.3 457.5) scale(0.900 1)">T<tspan dy="3.48" font-size="11.38">-</tspan></text>
<polyline points="256.3,445.2 259.7,452.9 256.3,460.6" fill="none" stroke="#000" stroke-width="1.2"/>
</svg>
</body></html>
